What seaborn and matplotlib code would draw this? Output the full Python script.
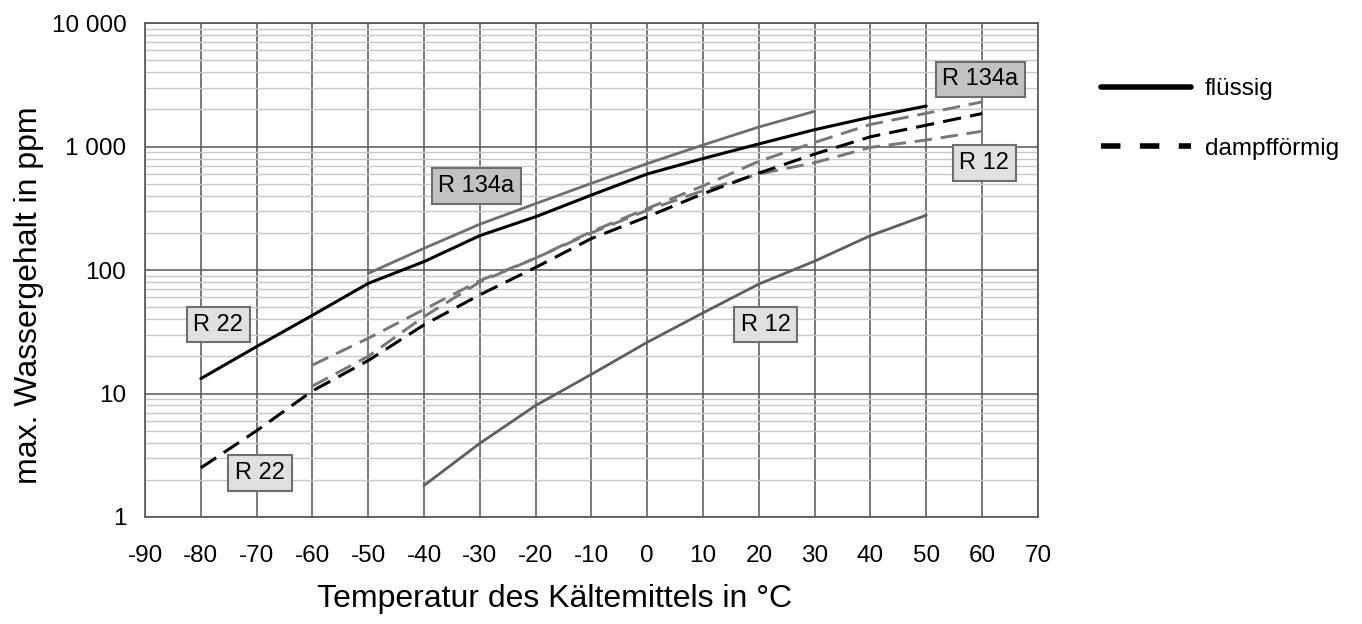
import numpy as np
import pandas as pd
import matplotlib
matplotlib.use("Agg")
import matplotlib.pyplot as plt
from matplotlib.lines import Line2D
from matplotlib.ticker import FixedLocator, NullFormatter
import seaborn as sns

# Werte (Temperatur in °C, Wassergehalt in ppm)
t_r22_fl = [-80, -70, -60, -50, -40, -30, -20, -10, 0, 10, 20, 30, 40, 50]
w_r22_fl = [13.2, 24, 43, 78, 117, 190, 270, 405, 600, 800, 1050, 1370, 1730, 2130]

t_r22_dampf = [-80, -70, -60, -50, -40, -30, -20, -10, 0, 10, 20, 30, 40, 50, 60]
w_r22_dampf = [2.5, 5.0, 10.5, 18.5, 36, 63, 105, 180, 270, 415, 610, 870, 1200, 1490, 1850]

t_r134a_fl = [-50, -40, -30, -20, -10, 0, 10, 20, 30]
w_r134a_fl = [94, 150, 235, 345, 504, 728, 1030, 1440, 1930]

t_r134a_dampf = [-60, -50, -40, -30, -20, -10, 0, 10, 20, 30, 40, 50, 60]
w_r134a_dampf = [17, 28, 48, 82, 125, 205, 315, 480, 760, 1080, 1510, 1860, 2300]

t_r12_fl = [-40, -30, -20, -10, 0, 10, 20, 30, 40, 50]
w_r12_fl = [1.8, 3.95, 8.0, 14.3, 26, 45, 77, 118, 190, 278]

t_r12_dampf = [-60, -50, -40, -30, -20, -10, 0, 10, 20, 30, 40, 50, 60]
w_r12_dampf = [11.5, 20, 42, 80, 125, 200, 305, 440, 600, 740, 985, 1130, 1330]

x_ticks = list(range(-90, 71, 10))
y_ticks = [1, 10, 100, 1000, 10000]
y_ticklabels = ["1", "10", "100", "1 000", "10 000"]

# Beschriftungen in den Kästchen: (Text, x, y, Füllfarbe)
labels = [
    ("R 134a", -30.6, 480, "#c2c2c2"),
    ("R 134a", 59.7, 3500, "#c2c2c2"),
    ("R 12", 60.4, 735, "#e0e0e0"),
    ("R 12", 21.2, 36, "#e0e0e0"),
    ("R 22", -76.9, 36, "#e0e0e0"),
    ("R 22", -69.4, 2.27, "#e0e0e0"),
]

sns.set_style("white")
plt.rcParams["font.family"] = ["Liberation Sans", "DejaVu Sans"]
plt.rcParams["text.color"] = "black"
plt.rcParams["axes.labelcolor"] = "black"
plt.rcParams["xtick.color"] = "black"
plt.rcParams["ytick.color"] = "black"

fig, ax = plt.subplots(figsize=(13.62, 6.24), dpi=100)
fig.subplots_adjust(left=0.1065, right=0.762, top=0.963, bottom=0.1715)

dash = (0, (6, 3))
serien = [
    (t_r134a_fl, w_r134a_fl, "#6e6e6e", "-", 2.0),
    (t_r12_fl, w_r12_fl, "#5e5e5e", "-", 2.0),
    (t_r134a_dampf, w_r134a_dampf, "#777777", dash, 2.1),
    (t_r12_dampf, w_r12_dampf, "#777777", dash, 2.1),
    (t_r22_dampf, w_r22_dampf, "black", dash, 2.2),
    (t_r22_fl, w_r22_fl, "black", "-", 2.2),
]
for t, w, farbe, ls, lw in serien:
    df = pd.DataFrame({"t": t, "w": w})
    sns.lineplot(data=df, x="t", y="w", ax=ax, color=farbe, linestyle=ls,
                 linewidth=lw, sort=False, zorder=3)

ax.set_yscale("log")
ax.set_xlim(-90, 70)
ax.set_ylim(1, 10000)

ax.set_xticks(x_ticks)
ax.set_xticklabels([str(v) for v in x_ticks])
ax.yaxis.set_major_locator(FixedLocator(y_ticks))
ax.set_yticklabels(y_ticklabels)
ax.yaxis.set_minor_locator(FixedLocator(
    [m * 10 ** e for e in range(0, 4) for m in range(2, 10)]))
ax.yaxis.set_minor_formatter(NullFormatter())

ax.grid(which="major", axis="both", color="#555555", linewidth=1.1, zorder=1)
ax.grid(which="minor", axis="y", color="#c8c8c8", linewidth=1.0, zorder=0)
ax.set_axisbelow(True)
for s in ax.spines.values():
    s.set_color("#555555")
    s.set_linewidth(1.2)

ax.tick_params(axis="both", which="major", direction="out", length=5.5,
               width=1.1, color="#555555", labelsize=17.5)
ax.tick_params(axis="x", pad=15)
ax.tick_params(axis="y", pad=8)
ax.tick_params(axis="y", which="minor", length=0)

ax.set_xlabel("Temperatur des Kältemittels in °C", fontsize=23)
ax.xaxis.set_label_coords(0.459, -0.135)
ax.set_ylabel("max. Wassergehalt in ppm", fontsize=23)
ax.yaxis.set_label_coords(-0.113, 0.449)

for text, x, y, fc in labels:
    ax.text(x, y, text, fontsize=17, ha="center", va="center", zorder=5,
            bbox=dict(boxstyle="square,pad=0.28", fc=fc, ec="#6e6e6e", lw=1.5))

handles = [
    Line2D([0], [0], color="black", linewidth=4, linestyle="-"),
    Line2D([0], [0], color="black", linewidth=4, linestyle=(0, (3.5, 3.5))),
]
fig.legend(handles, ["flüssig", "dampfförmig"], loc="upper left",
           bbox_to_anchor=(0.792, 0.91), frameon=False, fontsize=17.5,
           handlelength=3.7, handletextpad=0.6, labelspacing=1.55)

fig.savefig("out.png", dpi=100)
